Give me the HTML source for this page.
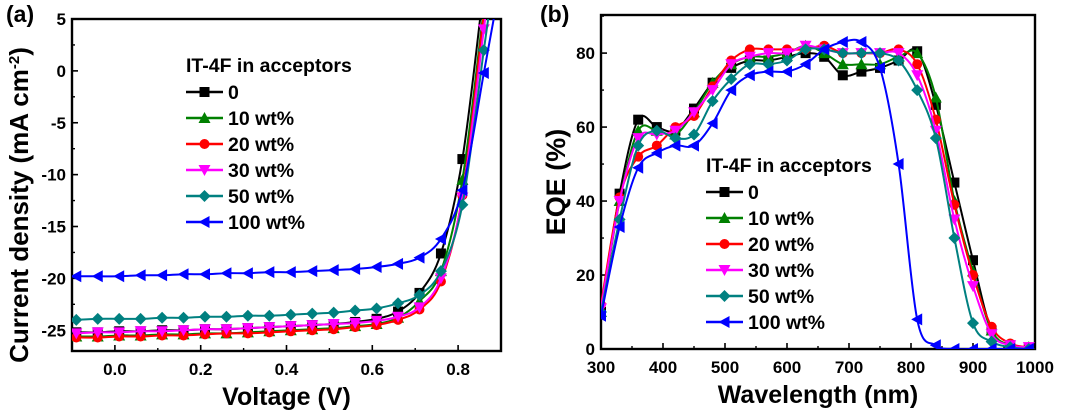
<!DOCTYPE html>
<html><head><meta charset="utf-8"><style>
html,body{margin:0;padding:0;background:#fff;}
svg{display:block;font-family:"Liberation Sans",Arial,sans-serif;font-weight:bold;}
</style></head><body>
<svg id="fig" width="1080" height="411" viewBox="0 0 1080 411" xmlns="http://www.w3.org/2000/svg">
<defs>
<clipPath id="clipA"><rect x="72" y="19" width="429" height="332"/></clipPath>
<clipPath id="clipB"><rect x="601" y="15" width="434" height="334"/></clipPath>
</defs>
<text x="6" y="22" font-size="23">(a)</text>
<text x="540" y="22" font-size="23">(b)</text>
<g id="panelA"></g>
<g id="panelB"></g>
</svg>
<script>
// ---------- Panel (a) data ----------
const voltages = [-0.09,-0.04,0.01,0.06,0.11,0.16,0.21,0.26,0.31,0.36,0.41,0.46,0.51,0.56,0.61,0.66,0.71,0.76,0.81,0.86];
const jv0   = [-25.2,-25.2,-25.1,-25.1,-25.0,-25.0,-24.9,-24.9,-24.8,-24.7,-24.6,-24.5,-24.4,-24.2,-23.9,-23.2,-21.4,-17.6,-8.5,8];
const jv10  = [-25.6,-25.6,-25.5,-25.5,-25.4,-25.4,-25.3,-25.3,-25.2,-25.1,-25.0,-24.9,-24.8,-24.6,-24.4,-23.8,-22.2,-19.3,-10.5,6];
const jv20  = [-25.7,-25.7,-25.6,-25.6,-25.5,-25.5,-25.4,-25.3,-25.3,-25.2,-25.1,-25.0,-24.9,-24.7,-24.5,-24.0,-23.0,-20.3,-12.0,5.5];
const jv30  = [-25.3,-25.2,-25.2,-25.1,-25.1,-25.0,-24.9,-24.9,-24.8,-24.7,-24.6,-24.5,-24.4,-24.3,-24.1,-23.7,-22.8,-20.0,-12.2,4];
const jv50  = [-24.0,-23.9,-23.9,-23.9,-23.8,-23.8,-23.7,-23.7,-23.6,-23.6,-23.5,-23.4,-23.3,-23.1,-22.9,-22.4,-21.6,-19.3,-12.9,2.0];
const jv100 = [-19.8,-19.8,-19.8,-19.7,-19.7,-19.6,-19.6,-19.5,-19.5,-19.4,-19.4,-19.3,-19.2,-19.1,-18.9,-18.6,-18.0,-16.2,-11.5,-0.2];
const xTicksA = ["0.0","0.2","0.4","0.6","0.8"];
const xTickValsA = [0,0.2,0.4,0.6,0.8];
const yTickValsA = [5,0,-5,-10,-15,-20,-25];

// ---------- Panel (b) data ----------
const wavelengths = [300,330,360,390,420,450,480,510,540,570,600,630,660,690,720,750,780,810,840,870,900,930,960,990];
const eqe0   = [10,42,62,60,59,65,72,76,78,78,79,80,79,74,75,76,78,80.5,66,45,24,5,1,0];
const eqe10  = [10,40,59,59,58,64,72,77,79,79,80,82,80,77,77,77,79,80,68,40,21,5,1,0.5];
const eqe20  = [12,41,52,55,60,63,71,78,81,81,81,81,82,80,80,80,81,77,62,39,20,6,1.5,0.5];
const eqe30  = [11,40,57,58,59,64,70,77,79,80,80,82,81,80,80,80,80,74,59,35,17,4,1,0.5];
const eqe50  = [10,35,55,59,57,58,67,73,77,77,78,81,81,80,80,80,78,70,57,30,7,2,0.5,0];
const eqe100 = [9,33,49,53,55,55,61,70,74,75,75,77,81,83,83,76,50,8,1,0,0,0,0,0];
const xTickValsB = [300,400,500,600,700,800,900,1000];
const yTickValsB = [0,20,40,60,80];

const NS="http://www.w3.org/2000/svg";
function mk(tag,attrs,parent){const e=document.createElementNS(NS,tag);for(const k in attrs)e.setAttribute(k,attrs[k]);parent.appendChild(e);return e;}

function marker(g,type,x,y,color){
  const s=5;let e;
  if(type==="square"){e=mk("rect",{x:x-s,y:y-s,width:2*s,height:2*s,fill:color},g);}
  else if(type==="circle"){e=mk("circle",{cx:x,cy:y,r:s,fill:color},g);}
  else if(type==="up"){e=mk("polygon",{points:`${x},${y-s-1} ${x-s-1},${y+s} ${x+s+1},${y+s}`,fill:color},g);}
  else if(type==="down"){e=mk("polygon",{points:`${x},${y+s+1} ${x-s-1},${y-s} ${x+s+1},${y-s}`,fill:color},g);}
  else if(type==="diamond"){e=mk("polygon",{points:`${x},${y-s-1} ${x+s+1},${y} ${x},${y+s+1} ${x-s-1},${y}`,fill:color},g);}
  else {e=mk("polygon",{points:`${x-s-1},${y} ${x+s},${y-s-1} ${x+s},${y+s+1}`,fill:color},g);}
  
  
  return e;
}
function smoothPath(pts){
  let d=`M${pts[0][0]},${pts[0][1]}`;
  for(let i=0;i<pts.length-1;i++){
    const p0=pts[Math.max(0,i-1)],p1=pts[i],p2=pts[i+1],p3=pts[Math.min(pts.length-1,i+2)];
    const c1=[p1[0]+(p2[0]-p0[0])/6,p1[1]+(p2[1]-p0[1])/6];
    const c2=[p2[0]-(p3[0]-p1[0])/6,p2[1]-(p3[1]-p1[1])/6];
    d+=` C${c1[0]},${c1[1]} ${c2[0]},${c2[1]} ${p2[0]},${p2[1]}`;
  }
  return d;
}

const seriesStyle=[
 {name:"0",color:"#000000",m:"square"},
 {name:"10 wt%",color:"#008000",m:"up"},
 {name:"20 wt%",color:"#ff0000",m:"circle"},
 {name:"30 wt%",color:"#ff00ff",m:"down"},
 {name:"50 wt%",color:"#008080",m:"diamond"},
 {name:"100 wt%",color:"#0000ff",m:"left"}
];

function axes(g,L,R,T,B,xs,ys,xVals,xLabels,yVals,yLabels,xMinor,yMinor,xTitle,yTitleX,prefix){
  const frame=mk("rect",{x:L,y:T,width:R-L,height:B-T,fill:"none",stroke:"#000","stroke-width":2.4},g);
  
  
  xVals.forEach((v,i)=>{const x=xs(v);
    mk("line",{x1:x,y1:B,x2:x,y2:B-6,stroke:"#000","stroke-width":1.6},g);
    const t=mk("text",{x:x,y:B+24,"font-size":17,"text-anchor":"middle"},g);t.textContent=xLabels[i];
    
    });
  xMinor.forEach(v=>{const x=xs(v);mk("line",{x1:x,y1:B,x2:x,y2:B-3,stroke:"#000","stroke-width":1.4},g);});
  yVals.forEach((v,i)=>{const y=ys(v);
    mk("line",{x1:L,y1:y,x2:L+6,y2:y,stroke:"#000","stroke-width":1.6},g);
    const t=mk("text",{x:L-6,y:y+6,"font-size":17,"text-anchor":"end"},g);t.textContent=yLabels[i];
    
    });
  yMinor.forEach(v=>{const y=ys(v);mk("line",{x1:L,y1:y,x2:L+3,y2:y,stroke:"#000","stroke-width":1.4},g);});
  const xt=mk("text",{x:(L+R)/2,y:B+54,"font-size":25,"text-anchor":"middle"},g);xt.textContent=xTitle;
  
  
  const yt=mk("text",{x:0,y:0,"font-size":25,"text-anchor":"middle",transform:`translate(${yTitleX},${(T+B)/2}) rotate(-90)`},g);
  
  
  return yt;
}

function legend(g,x,y0,dy,prefix){
  const lg=mk("g",{},g);
  
  
  const t=mk("text",{x:x,y:y0,"font-size":19.5},lg);t.textContent="IT-4F in acceptors";
  
  
  seriesStyle.forEach((s,i)=>{const y=y0+dy*(i+1)-6;
    const e=mk("g",{},lg);
    
    
    mk("line",{x1:x,y1:y,x2:x+37,y2:y,stroke:s.color,"stroke-width":2.4},e);
    marker(e,s.m,x+18.5,y,s.color);
    const tt=mk("text",{x:x+42,y:y+7,"font-size":19.5},e);tt.textContent=s.name;});
}

// ---------- Draw (a) ----------
(function(){
  const g=document.getElementById("panelA");
  const L=72,R=501,T=19,B=351,xmin=-0.1,xmax=0.9,ymin=-27,ymax=5;
  const xs=v=>L+(v-xmin)/(xmax-xmin)*(R-L);
  const ys=v=>B-(v-ymin)/(ymax-ymin)*(B-T);
  const yt=axes(g,L,R,T,B,xs,ys,xTickValsA,xTicksA,yTickValsA,yTickValsA.map(String),
    [-0.1,0.1,0.3,0.5,0.7,0.9],[2.5,-2.5,-7.5,-12.5,-17.5,-22.5],"Voltage (V)",28,"jv");
  yt.setAttribute("font-size","26");
  yt.setAttribute("transform","translate(28,205) rotate(-90)");
  yt.innerHTML='Current density (mA cm<tspan dy="-9" font-size="15">-2</tspan><tspan dy="9">)</tspan>';
  const data=[jv0,jv10,jv20,jv30,jv50,jv100];
  const plot=mk("g",{"clip-path":"url(#clipA)"},g);
  data.forEach((arr,si)=>{const s=seriesStyle[si];
    const sg=mk("g",{},plot);
    
    
    const pts=arr.map((v,i)=>[xs(voltages[i]),ys(v)]);
    const last=arr.length-1;
    const slope=(arr[last]-arr[last-1])/(voltages[last]-voltages[last-1]);
    pts.push([xs(voltages[last]+0.03),ys(arr[last]+slope*0.03)]);
    mk("path",{d:smoothPath(pts),fill:"none",stroke:s.color,"stroke-width":2},sg);
    arr.forEach((v,i)=>marker(sg,s.m,xs(voltages[i]),ys(v),s.color));
  });
  legend(g,186,72,26,"jv");
})();

// ---------- Draw (b) ----------
(function(){
  const g=document.getElementById("panelB");
  const L=601,R=1035,T=15,B=349,xmin=300,xmax=1000,ymin=0,ymax=90.3;
  const xs=v=>L+(v-xmin)/(xmax-xmin)*(R-L);
  const ys=v=>B-(v-ymin)/(ymax-ymin)*(B-T);
  const yt=axes(g,L,R,T,B,xs,ys,xTickValsB,xTickValsB.map(String),yTickValsB,yTickValsB.map(String),
    [350,450,550,650,750,850,950],[10,30,50,70,90],"Wavelength (nm)",565,"eqe");
  yt.setAttribute("font-size","27");
  yt.textContent="EQE (%)";
  const data=[eqe0,eqe10,eqe20,eqe30,eqe50,eqe100];
  const plot=mk("g",{"clip-path":"url(#clipB)"},g);
  data.forEach((arr,si)=>{const s=seriesStyle[si];
    const sg=mk("g",{},plot);
    
    
    const pts=arr.map((v,i)=>[xs(wavelengths[i]),ys(v)]);
    mk("path",{d:smoothPath(pts),fill:"none",stroke:s.color,"stroke-width":2},sg);
    arr.forEach((v,i)=>marker(sg,s.m,xs(wavelengths[i]),ys(v),s.color));
  });
  legend(g,706,172,26,"eqe");
})();
</script>
</body></html>
